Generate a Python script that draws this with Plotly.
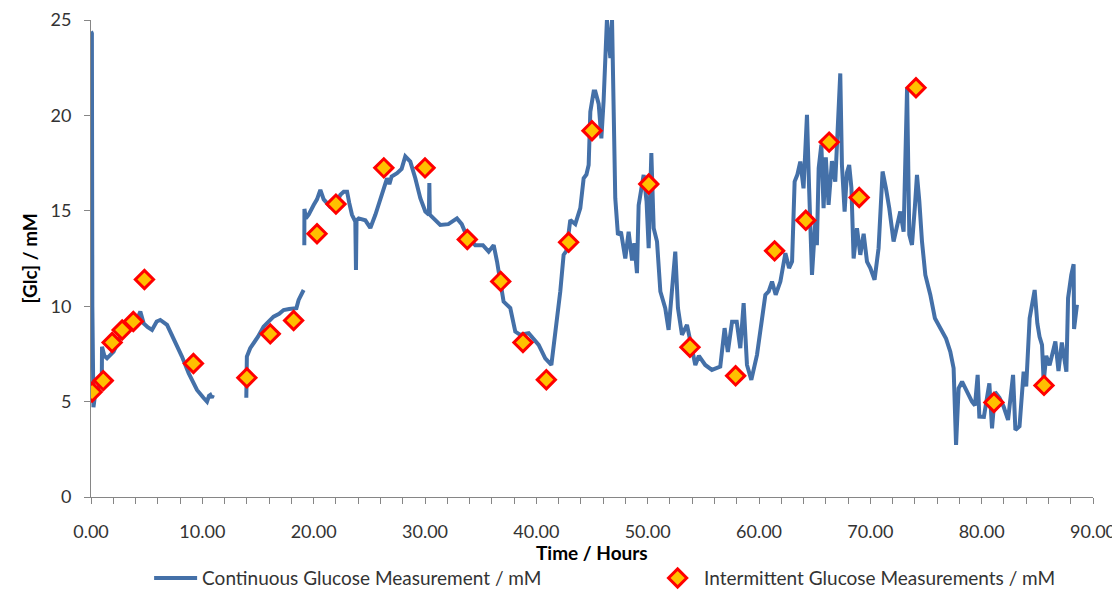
import plotly.graph_objects as go

# Continuous glucose measurement (hours, mM); None separates sensor gaps
cgm_time = [
    0.00, 0.08, 0.12, 0.15, 0.22, 0.35, 0.6, 0.85, 0.97, 0.99, 1.2, 1.44, 2.03, 2.63, 3.38, 3.83, 4.2, 4.43, 4.73,
    5.1, 5.48, 5.9, 6.22, 6.83, 7.42, 8.17, 8.77, 9.52, 10.1, 10.42, 10.6, 10.72, 10.85, 10.96,
    None,
    13.95, 13.97, 14.0, 14.3, 14.6, 15.0, 15.5, 16.0, 16.4, 16.9, 17.3, 17.8, 18.2, 18.45, 18.65, 18.9, 19.1,
    None,
    19.16, 19.17, 19.3, 19.55, 20.0, 20.3, 20.6, 20.9, 21.2, 21.5, 21.8, 22.1, 22.4, 22.7, 23.0, 23.2, 23.44,
    23.74, 23.8, 23.85, 24.04, 24.64, 25.09, 25.54, 25.9, 26.14, 26.59, 26.8, 27.0, 27.49, 27.9, 28.23, 28.68,
    29.13, 29.58, 30.03, 30.35, 30.39, 30.43, 30.77, 31.37, 32.1, 32.87, 33.3, 33.77, 34.52, 35.2, 35.72, 36.17,
    36.47, 36.77, 37.06, 37.66, 38.11, 38.56, 39.31, 40.21, 40.8, 41.35, 41.7, 42.15, 42.45, 42.7, 43.05, 43.5,
    43.95, 44.25, 44.5, 44.7, 44.85, 45.15, 45.3, 45.6, 45.84, 46.04, 46.34, 46.5, 46.65, 46.8, 46.9, 46.94,
    47.09, 47.33, 47.6, 47.99, 48.29, 48.6, 48.8, 49.04, 49.19, 49.64, 49.9, 50.09, 50.33, 50.54, 50.84, 51.14,
    51.58, 51.88, 52.24, 52.48, 52.72, 53.08, 53.53, 53.98, 54.28, 54.6, 55.17, 55.77, 56.52, 56.91, 57.2, 57.58,
    58.0, 58.32, 58.62, 58.92, 59.31, 59.82, 60.27, 60.57, 60.87, 61.17, 61.5, 61.92, 62.37, 62.7, 62.97, 63.2,
    63.45, 63.71, 64.0, 64.31, 64.5, 64.76, 65.06, 65.2, 65.36, 65.6, 65.8, 66.0, 66.25, 66.55, 66.85, 67.1,
    67.3, 67.45, 67.69, 67.9, 68.1, 68.3, 68.5, 68.8, 69.1, 69.4, 69.7, 70.0, 70.38, 70.74, 71.1, 71.4, 71.7,
    72.09, 72.4, 72.69, 72.99, 73.3, 73.5, 73.74, 74.0, 74.19, 74.4, 74.64, 74.94, 75.39, 75.8, 76.4, 76.8,
    77.18, 77.48, 77.7, 77.93, 78.24, 78.6, 79.13, 79.4, 79.64, 79.79, 80.2, 80.69, 80.93, 81.2, 81.6, 81.97,
    82.37, 82.82, 83.03, 83.4, 83.77, 84.0, 84.31, 84.76, 85.0, 85.2, 85.42, 85.57, 85.8, 86.1, 86.62, 86.9,
    87.2, 87.61, 87.76, 88.05, 88.26, 88.3, 88.4, 88.56,
]
cgm_glc = [
    24.4, 24.3, 10.0, 5.0, 4.7, 5.3, 5.7, 6.0, 6.14, 7.88, 7.4, 7.27, 7.62, 8.4, 9.0, 9.19, 9.4, 9.72, 9.1,
    8.9, 8.76, 9.2, 9.28, 9.02, 8.32, 7.36, 6.49, 5.61, 5.2, 5.0, 5.3, 5.35, 5.2, 5.35,
    None,
    5.2, 6.5, 7.36, 7.8, 8.06, 8.4, 8.93, 9.2, 9.45, 9.6, 9.8, 9.85, 9.9, 9.9, 10.33, 10.6, 10.85,
    None,
    13.2, 15.1, 14.6, 14.8, 15.3, 15.6, 16.1, 15.6, 15.4, 15.2, 15.14, 15.5, 15.84, 16.0, 16.0, 15.4, 14.79,
    14.44, 11.9, 14.5, 14.6, 14.5, 14.1, 14.79, 15.4, 15.84, 16.7, 16.4, 16.8, 16.97, 17.2, 17.85, 17.58,
    16.71, 15.66, 14.96, 14.8, 16.45, 14.8, 14.6, 14.26, 14.3, 14.6, 14.3, 13.65, 13.2, 13.2, 12.86, 13.2,
    12.34, 11.29, 10.24, 9.9, 8.67, 8.5, 8.58, 7.97, 7.27, 6.92, 8.5, 10.77, 12.69, 12.9, 14.52, 14.3,
    15.14, 16.71, 16.9, 17.4, 20.2, 21.25, 21.25, 20.6, 18.8, 20.73, 25.0, 24.0, 23.0, 25.0, 21.0, 18.3,
    15.66, 13.74, 13.9, 12.5, 13.9, 12.4, 13.3, 11.73, 15.3, 16.88, 15.5, 13.04, 18.02, 14.09, 13.39, 10.77,
    9.9, 8.76, 11.47, 12.86, 9.9, 8.5, 9.02, 7.8, 6.92, 7.4, 6.92, 6.66, 6.83, 8.85, 7.6, 9.19,
    9.19, 7.8, 10.16, 6.92, 6.14, 7.45, 9.19, 10.59, 10.77, 11.29, 10.6, 11.29, 12.78, 12.0, 12.34, 16.53,
    16.9, 17.58, 16.18, 20.03, 16.2, 11.64, 14.44, 13.2, 17.24, 18.46, 15.14, 17.8, 15.31, 17.6, 16.53, 20.2,
    22.2, 17.4, 14.96, 17.0, 17.4, 16.2, 12.5, 14.09, 12.69, 13.8, 12.34, 12.0, 11.38, 13.04, 17.06, 16.19, 15.14,
    13.39, 14.2, 14.96, 13.91, 21.43, 13.74, 13.21, 15.2, 16.88, 15.5, 13.39, 11.64, 10.59, 9.37, 8.67, 8.3,
    7.62, 6.75, 2.73, 5.7, 6.05, 5.6, 5.0, 4.8, 6.4, 4.21, 4.2, 5.96, 3.6, 5.5, 5.2, 4.74,
    4.04, 6.4, 3.51, 3.7, 6.57, 5.8, 9.37, 10.85, 9.1, 8.4, 7.97, 6.05, 7.4, 6.9, 8.15, 6.6,
    8.1, 6.57, 10.42, 11.64, 12.2, 8.8, 9.3, 10.07,
]

# Intermittent (finger-prick) glucose measurements
ig_time = [0.1, 1.1, 1.9, 2.8, 3.8, 4.8, 9.2, 14.0, 16.1, 18.2, 20.3, 22.0, 26.3, 30.0, 33.8, 36.8,
           38.8, 40.9, 42.9, 45.0, 50.1, 53.8, 57.9, 61.4, 64.2, 66.3, 69.0, 74.1, 81.1, 85.6]
ig_glc = [5.5, 6.1, 8.1, 8.75, 9.2, 11.4, 7.0, 6.25, 8.55, 9.25, 13.8, 15.35, 17.25, 17.25, 13.5, 11.3,
          8.1, 6.15, 13.35, 19.2, 16.4, 7.85, 6.35, 12.9, 14.5, 18.6, 15.7, 21.45, 4.95, 5.85]

x_ticks = [0, 10, 20, 30, 40, 50, 60, 70, 80, 90]
y_ticks = [0, 5, 10, 15, 20, 25]

FONT = "Lato"
TXT = "#333333"
AX = "#868686"

fig = go.Figure()
fig.add_trace(go.Scatter(
    x=cgm_time, y=cgm_glc, mode="lines", connectgaps=False,
    name="Continuous Glucose Measurement / mM",
    line=dict(color="#4470A8", width=4),
))
fig.add_trace(go.Scatter(
    x=ig_time, y=ig_glc, mode="markers",
    name="Intermittent Glucose Measurements / mM",
    marker=dict(symbol="diamond", size=14, color="#FFC000", line=dict(color="#FF0000", width=3)),
))

# the page body adds an 8 px offset, so the figure is sized to fit the window after it
fig.update_layout(
    width=1112, height=583,
    margin=dict(l=83, r=27, t=12, b=94, autoexpand=False),
    paper_bgcolor="white", plot_bgcolor="white",
    font=dict(family=FONT, size=17, color=TXT),
    showlegend=True,
    legend=dict(orientation="h", x=0.058, xref="paper", xanchor="left", y=-0.17, yanchor="middle",
                font=dict(size=19, color=TXT), itemwidth=43,
                entrywidth=444, entrywidthmode="pixels", traceorder="normal"),
    annotations=[
        dict(text="<b>Time / Hours</b>", xref="paper", yref="paper", x=0.5, y=0, xanchor="center",
             yanchor="middle", yshift=-55, showarrow=False, font=dict(size=19, color="#000000")),
        dict(text="<b>[Glc] / mM</b>", xref="paper", yref="paper", x=0, y=0.5, xanchor="center",
             yanchor="middle", xshift=-62, textangle=-90, showarrow=False,
             font=dict(size=19, color="#000000")),
    ],
)
fig.update_xaxes(
    range=[0, 90], tickvals=x_ticks, ticktext=[f"{v:.2f}" for v in x_ticks],
    showgrid=False, zeroline=False, showline=True, linecolor=AX, linewidth=1,
    ticks="outside", ticklen=6, tickcolor=AX, tickwidth=1, ticklabelstandoff=12,
    minor=dict(dtick=2, ticks="outside", ticklen=6, tickcolor=AX, tickwidth=1, showgrid=False),
    tickfont=dict(size=18, color=TXT), automargin=False,
)
fig.update_yaxes(
    range=[0, 25], tickvals=y_ticks,
    showgrid=False, zeroline=False, showline=True, linecolor=AX, linewidth=1,
    ticks="outside", ticklen=6, tickcolor=AX, tickwidth=1, ticklabelstandoff=9,
    tickfont=dict(size=18, color=TXT), automargin=False,
)

fig.write_html("out.html")
